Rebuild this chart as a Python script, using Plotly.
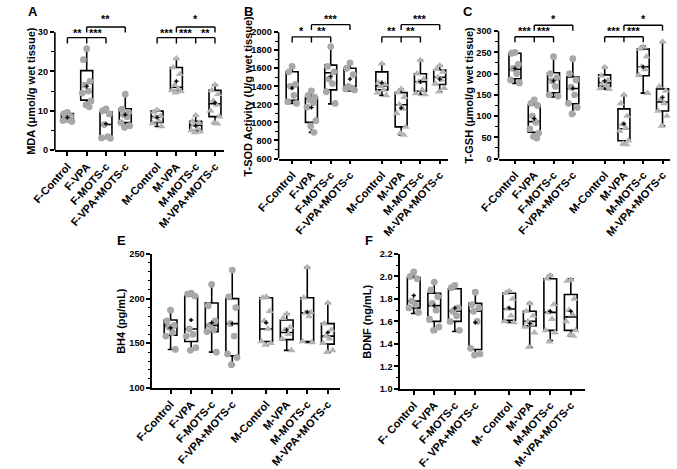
import plotly.graph_objects as go

W, H = 677, 469

groups = ["F-Control", "F-VPA", "F-MOTS-c", "F-VPA+MOTS-c",
          "M-Control", "M-VPA", "M-MOTS-c", "M-VPA+MOTS-c"]
groups_f = ["F- Control", "F-VPA", "F-MOTS-c", "F- VPA+MOTS-c",
            "M- Control", "M-VPA", "M-MOTS-c", "M-VPA+MOTS-c"]

# ---------------- Panel A : MDA ----------------
mda_min = [7.3, 11.0, 3.0, 5.8, 6.0, 14.6, 4.5, 6.7]
mda_q1 = [7.6, 12.7, 3.2, 7.0, 7.0, 15.2, 5.0, 8.5]
mda_median = [7.9, 14.8, 6.5, 9.0, 8.5, 16.0, 6.3, 11.8]
mda_q3 = [9.3, 20.2, 9.7, 10.5, 9.9, 21.0, 7.3, 15.2]
mda_max = [9.6, 25.8, 10.5, 14.2, 10.2, 23.3, 8.8, 16.6]
mda_mean = [8.3, 16.2, 6.7, 9.0, 8.3, 17.5, 6.2, 12.0]
mda_points = [
    [9.6, 9.3, 8.6, 8.0, 7.7, 7.5, 7.3],
    [25.8, 23.0, 17.5, 16.5, 15.0, 14.5, 12.5, 11.5, 11.0],
    [10.5, 10.0, 9.2, 6.5, 3.4, 3.1, 3.0],
    [14.2, 10.4, 9.6, 9.0, 8.5, 7.0, 6.2, 5.8],
    [10.2, 9.7, 8.7, 8.4, 7.5, 6.8, 6.0],
    [23.3, 21.0, 19.3, 16.5, 15.6, 15.2, 14.9, 14.6],
    [8.8, 7.3, 6.9, 6.3, 5.5, 5.0, 4.7, 4.5],
    [16.6, 15.2, 14.2, 12.5, 11.5, 10.0, 8.5, 7.0, 6.7],
]

# ---------------- Panel B : T-SOD ----------------
sod_min = [1210, 890, 1205, 1350, 1300, 860, 1310, 1340]
sod_q1 = [1245, 1000, 1360, 1385, 1360, 950, 1345, 1420]
sod_median = [1400, 1260, 1550, 1395, 1405, 1195, 1450, 1500]
sod_q3 = [1562, 1275, 1635, 1600, 1560, 1330, 1540, 1580]
sod_max = [1620, 1355, 1840, 1660, 1650, 1370, 1690, 1630]
sod_mean = [1380, 1165, 1510, 1480, 1440, 1160, 1450, 1480]
sod_points = [
    [1620, 1560, 1420, 1400, 1300, 1230, 1210],
    [1350, 1300, 1280, 1250, 1220, 1170, 1020, 960, 890],
    [1840, 1620, 1560, 1480, 1430, 1340, 1210],
    [1660, 1600, 1530, 1400, 1380, 1370, 1360],
    [1650, 1440, 1420, 1400, 1360, 1330, 1300],
    [1370, 1330, 1280, 1200, 1150, 1100, 950, 880, 860],
    [1690, 1540, 1480, 1450, 1360, 1320, 1310],
    [1630, 1590, 1560, 1500, 1470, 1430, 1380, 1340],
]

# ---------------- Panel C : T-GSH ----------------
gsh_min = [177, 48, 145, 105, 163, 33, 154, 77]
gsh_q1 = [188, 62, 155, 129, 170, 42, 195, 112]
gsh_median = [210, 87, 186, 165, 178, 70, 216, 133]
gsh_q3 = [248, 126, 202, 192, 197, 117, 258, 164]
gsh_max = [252, 140, 240, 237, 215, 150, 265, 275]
gsh_mean = [212, 94, 183, 165, 183, 82, 216, 144]
gsh_points = [
    [250, 248, 222, 212, 200, 185, 178],
    [138, 130, 125, 100, 85, 70, 60, 52, 48],
    [240, 200, 190, 183, 170, 150, 147],
    [235, 200, 185, 168, 150, 130, 120, 105],
    [215, 195, 185, 178, 172, 165, 163],
    [150, 130, 100, 80, 72, 65, 42, 35, 33],
    [263, 258, 240, 216, 210, 197, 154],
    [275, 170, 160, 140, 130, 112, 100, 77],
]

# ---------------- Panel E : BH4 ----------------
bh4_min = [143, 142, 140, 126, 148, 142, 151, 140]
bh4_q1 = [159, 152, 163, 136, 152, 154, 152, 149]
bh4_median = [170, 166, 170, 172, 166, 162, 184, 158]
bh4_q3 = [176, 203, 195, 200, 201, 176, 201, 172]
bh4_max = [187, 206, 216, 232, 202, 183, 235, 195]
bh4_mean = [167, 176, 173, 172, 173, 165, 185, 162]
bh4_points = [
    [187, 175, 170, 168, 162, 158, 143],
    [206, 205, 203, 166, 160, 158, 145, 142],
    [216, 192, 175, 170, 165, 163, 140],
    [232, 202, 190, 172, 158, 138, 134, 126],
    [202, 201, 186, 175, 166, 152, 150, 148],
    [183, 178, 168, 165, 160, 155, 142],
    [235, 201, 185, 184, 180, 152, 151],
    [195, 172, 165, 158, 155, 150, 142, 140],
]

# ---------------- Panel F : BDNF ----------------
bdnf_min = [1.67, 1.51, 1.51, 1.30, 1.59, 1.37, 1.43, 1.47]
bdnf_q1 = [1.72, 1.60, 1.60, 1.35, 1.61, 1.56, 1.52, 1.52]
bdnf_median = [1.78, 1.74, 1.69, 1.69, 1.71, 1.60, 1.68, 1.64]
bdnf_q3 = [1.99, 1.85, 1.89, 1.76, 1.85, 1.69, 1.98, 1.84]
bdnf_max = [2.04, 1.95, 1.93, 1.87, 1.87, 1.76, 2.01, 1.98]
bdnf_mean = [1.83, 1.74, 1.72, 1.59, 1.72, 1.58, 1.69, 1.69]
bdnf_points = [
    [2.04, 2.00, 1.98, 1.78, 1.75, 1.72, 1.68],
    [1.95, 1.88, 1.82, 1.76, 1.70, 1.62, 1.55, 1.52],
    [1.92, 1.90, 1.72, 1.69, 1.65, 1.60, 1.52],
    [1.86, 1.75, 1.72, 1.69, 1.60, 1.36, 1.31, 1.30],
    [1.87, 1.85, 1.80, 1.71, 1.65, 1.60, 1.59],
    [1.76, 1.69, 1.65, 1.60, 1.57, 1.55, 1.50, 1.37],
    [2.01, 1.98, 1.75, 1.68, 1.62, 1.52, 1.50, 1.42],
    [1.97, 1.96, 1.80, 1.70, 1.66, 1.60, 1.52, 1.48, 1.47],
]

# ---------------- styling / layout helpers ----------------
POS = [0, 1, 2, 3, 4.65, 5.65, 6.65, 7.65]
JIT = [0.0, -0.17, 0.17, -0.09, 0.09, -0.23, 0.23, -0.04, 0.13]
FONT = "Liberation Sans, Arial, sans-serif"
PT_F = "#a8a8a8"
PT_M = "#b4b4b4"

fig = go.Figure()
shapes = []
annotations = []
layout_axes = {}


def dom_x(a, b):
    return [a / W, b / W]


def dom_y(bottom, top):
    return [1 - bottom / H, 1 - top / H]


def add_panel(n, pmin, pq1, pmed, pq3, pmax, pmean, ppts, xdom, ydom, xr, yr,
              ytickvals, minor_vals, ytitle, title_xy, ticklabels, label, label_xy,
              bracket_lines=(), star_marks=(), line_axis=True, yfmt=None):
    xa = "x" if n == 1 else f"x{n}"
    ya = "y" if n == 1 else f"y{n}"
    for i in range(8):
        fig.add_trace(go.Box(
            x=[POS[i]], q1=[pq1[i]], median=[pmed[i]], q3=[pq3[i]],
            lowerfence=[pmin[i]], upperfence=[pmax[i]],
            width=0.62, whiskerwidth=0.45, fillcolor="white",
            line=dict(color="black", width=1.6), boxpoints=False,
            xaxis=xa, yaxis=ya, showlegend=False, hoverinfo="skip"))
    for i in range(8):
        pts = ppts[i]
        fig.add_trace(go.Scatter(
            x=[POS[i] + JIT[k % len(JIT)] for k in range(len(pts))], y=pts,
            mode="markers", xaxis=xa, yaxis=ya, showlegend=False,
            hoverinfo="skip",
            marker=dict(symbol="circle" if i < 4 else "triangle-up",
                        size=6.8 if i < 4 else 7.2,
                        color=PT_F if i < 4 else PT_M, line=dict(width=0))))
    fig.add_trace(go.Scatter(
        x=POS, y=pmean, mode="markers", xaxis=xa, yaxis=ya, showlegend=False,
        hoverinfo="skip",
        marker=dict(symbol="cross", size=3.5, color="black", line=dict(width=0))))

    tickfont = dict(family=FONT, size=9.2, color="black", weight="bold")
    xtickfont = dict(family=FONT, size=11, color="black", weight="bold")
    layout_axes["xaxis" if n == 1 else f"xaxis{n}"] = dict(
        domain=xdom, range=xr, anchor=ya, showline=True, linewidth=1.6,
        linecolor="black", ticks="outside", ticklen=4, tickwidth=1.5,
        tickcolor="black", tickvals=POS, ticktext=ticklabels, tickangle=-48,
        tickfont=xtickfont, showgrid=False, zeroline=False)
    yax = dict(
        domain=ydom, range=yr, anchor=xa, showline=not line_axis,
        linewidth=1.6, linecolor="black",
        ticks="outside", ticklen=4, tickwidth=1.5, tickcolor="black",
        tickvals=ytickvals, tickfont=tickfont, showgrid=False, zeroline=False,
        minor=dict(tickvals=minor_vals, ticks="outside", ticklen=2.5,
                   tickwidth=1.2, tickcolor="black", showgrid=False))
    if yfmt:
        yax["tickformat"] = yfmt
    layout_axes["yaxis" if n == 1 else f"yaxis{n}"] = yax
    annotations.append(dict(xref="paper", yref="paper", x=title_xy[0] / W,
                            y=1 - title_xy[1] / H, text=ytitle, textangle=-90,
                            showarrow=False, xanchor="center", yanchor="middle",
                            font=dict(family=FONT, size=11, color="black",
                                      weight="bold")))
    if line_axis:
        shapes.append(dict(type="line", xref=f"{xa} domain", yref=ya,
                           x0=0, x1=0, y0=yr[0], y1=ytickvals[-1],
                           line=dict(color="black", width=1.6), layer="above"))
    for (i0, i1, yv, drops, dlen) in bracket_lines:
        shapes.append(dict(type="line", xref=xa, yref=ya, x0=POS[i0], x1=POS[i1],
                           y0=yv, y1=yv, line=dict(color="black", width=1.4)))
        for d in drops:
            shapes.append(dict(type="line", xref=xa, yref=ya, x0=POS[d], x1=POS[d],
                               y0=yv, y1=yv - dlen,
                               line=dict(color="black", width=1.4)))
    for (i0, i1, yv, txt) in star_marks:
        annotations.append(dict(xref=xa, yref=ya, x=(POS[i0] + POS[i1]) / 2, y=yv,
                                text=txt, showarrow=False, yanchor="middle",
                                font=dict(family=FONT, size=11, color="black",
                                          weight="bold")))
    annotations.append(dict(xref="paper", yref="paper", x=label_xy[0] / W,
                            y=1 - label_xy[1] / H, text=label, showarrow=False,
                            xanchor="left", yanchor="middle",
                            font=dict(family=FONT, size=13, color="black",
                                      weight="bold")))


# Panel A
add_panel(1, mda_min, mda_q1, mda_median, mda_q3, mda_max, mda_mean, mda_points,
          dom_x(32, 207), dom_y(155, 8), [-0.65, 8.1], [0, 35],
          [0, 10, 20, 30], [5, 15, 25], "MDA (μmol/g wet tissue)", (7, 92), groups,
          "A", (2, 7),
          bracket_lines=[(0, 2, 28.6, [0, 1, 2], 1.5), (1, 3, 31.3, [1, 3], 1.4),
                         (4, 7, 28.6, [4, 5, 6, 7], 1.5), (5, 7, 31.3, [5, 7], 1.4)],
          star_marks=[(0, 1, 29.9, "**"), (1, 2, 29.9, "***"), (1, 3, 33.3, "**"),
                      (4, 5, 29.9, "***"), (5, 6, 29.9, "***"), (6, 7, 29.9, "**"),
                      (5, 7, 33.3, "*")])

# Panel B
add_panel(2, sod_min, sod_q1, sod_median, sod_q3, sod_max, sod_mean, sod_points,
          dom_x(264, 440), dom_y(164, 8), [-0.7, 8.1], [600, 2218],
          [600, 800, 1000, 1200, 1400, 1600, 1800, 2000],
          [700, 900, 1100, 1300, 1500, 1700, 1900],
          "T-SOD Activity (U/g wet tissue)", (232, 97), groups, "B", (226, 7),
          bracket_lines=[(0, 2, 1948, [0, 1, 2], 62), (1, 3, 2083, [1, 3], 60),
                         (4, 6, 1948, [4, 5, 6], 62), (5, 7, 2083, [5, 7], 60)],
          star_marks=[(0, 1, 2010, "*"), (1, 2, 2010, "**"), (1, 3, 2150, "***"),
                      (4, 5, 2010, "**"), (5, 6, 2010, "**"), (5, 7, 2150, "***")])

# Panel C
add_panel(3, gsh_min, gsh_q1, gsh_median, gsh_q3, gsh_max, gsh_mean, gsh_points,
          dom_x(492, 670), dom_y(164, 8), [-0.85, 8.05], [0, 344],
          [0, 50, 100, 150, 200, 250, 300],
          [25, 75, 125, 175, 225, 275],
          "T-GSH (μmol/g wet tissue)", (461, 96), groups, "C", (453, 7),
          bracket_lines=[(0, 2, 287, [0, 1, 2], 13), (1, 3, 314, [1, 3], 13),
                         (4, 6, 287, [4, 5, 6], 13), (5, 7, 314, [5, 7], 13)],
          star_marks=[(0, 1, 300, "***"), (1, 2, 300, "***"), (1, 3, 329, "*"),
                      (4, 5, 300, "***"), (5, 6, 300, "***"), (5, 7, 329, "*")])

# Panel E
add_panel(4, bh4_min, bh4_q1, bh4_median, bh4_q3, bh4_max, bh4_mean, bh4_points,
          dom_x(133, 328), dom_y(409, 266), [-0.89, 8.26], [100, 250],
          [100, 150, 200, 250], [110, 120, 130, 140, 160, 170, 180, 190, 210, 220, 230, 240],
          "BH4 (pg/mL)", (101, 337), groups, "E", (94, 252), line_axis=False)

# Panel F
add_panel(5, bdnf_min, bdnf_q1, bdnf_median, bdnf_q3, bdnf_max, bdnf_mean, bdnf_points,
          dom_x(390, 582), dom_y(410, 266), [-0.66, 8.36], [1.0, 2.2],
          [1.0, 1.2, 1.4, 1.6, 1.8, 2.0, 2.2], [1.1, 1.3, 1.5, 1.7, 1.9, 2.1],
          "BDNF (ng/mL)", (356, 338), groups_f, "F", (351, 252), line_axis=False,
          yfmt=".1f")

fig.update_layout(
    width=W, height=H, autosize=False,
    margin=dict(l=0, r=0, t=0, b=0),
    paper_bgcolor="white", plot_bgcolor="white",
    boxmode="overlay",
    shapes=shapes, annotations=annotations,
    font=dict(family=FONT, color="black"),
    **layout_axes,
)

fig.write_html("out.html")
